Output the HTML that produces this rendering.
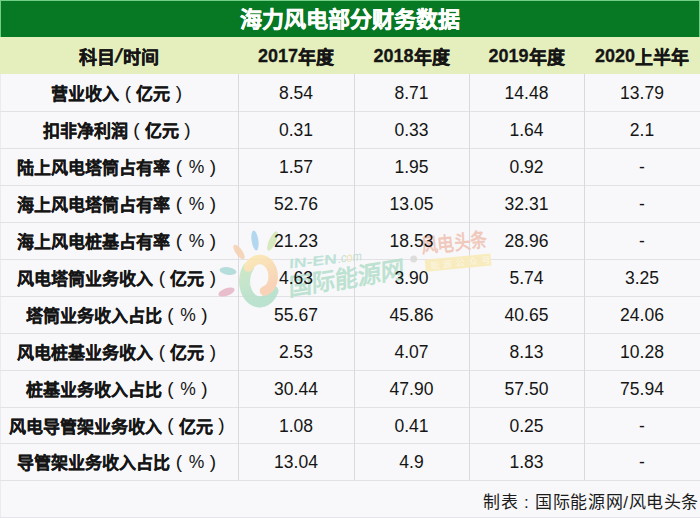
<!DOCTYPE html><html lang="zh-CN"><head><meta charset="utf-8"><style>
*{margin:0;padding:0;box-sizing:border-box}
html,body{width:700px;height:518px;overflow:hidden;background:#f8f8fa}
body{position:relative;font-family:"Liberation Sans",sans-serif;color:#151515}
.a{position:absolute}
.t{position:absolute;display:flex;align-items:center;justify-content:center;white-space:nowrap}
.hl{position:absolute;left:0;width:700px;height:1px;background:#e2e2e6}
.vl{position:absolute;width:1px;background:#dadade}
.c1{font-weight:bold;font-size:17px;-webkit-text-stroke:0.2px #151515}
.n{font-size:17.5px}
.h{font-weight:bold;font-size:18px;-webkit-text-stroke:0.3px #151515}
.p{display:inline-block;width:17px;text-align:center;font-weight:normal;font-size:19px;position:relative;top:0px;-webkit-text-stroke:0}
.n{padding-top:2px}
.d{position:relative;top:1px}
.lp{left:0.5px}
.rp{left:0.5px}
.pc{font-size:17.5px;left:1px;top:0.5px}
</style></head><body>
<div class="a" style="left:0;top:0;width:700px;height:37px;background:#74cf86"></div>
<div class="a" style="left:1px;top:1px;width:698px;height:36px;background:#077823"></div>
<div class="t" style="left:0;top:-1px;width:700px;height:36px;color:#fff;font-weight:bold;font-size:22px;-webkit-text-stroke:0.4px #fff">海力风电部分财务数据</div>
<div class="a" style="left:0;top:37px;width:700px;height:37px;background:#e4efbd"></div>
<div class="t h" style="left:0px;top:37px;width:238px;height:37px">科目<span style="font-size:19px;padding:0 1px;transform:skewX(-16deg)">/</span>时间</div>
<div class="t h" style="left:238px;top:37px;width:116px;height:37px"><span class="d">2017</span>年度</div>
<div class="t h" style="left:354px;top:37px;width:115px;height:37px"><span class="d">2018</span>年度</div>
<div class="t h" style="left:469px;top:37px;width:115px;height:37px"><span class="d">2019</span>年度</div>
<div class="t h" style="left:584px;top:37px;width:116px;height:37px"><span class="d">2020</span>上半年</div>
<div class="vl" style="left:0;top:74px;height:444px;background:#ebebef"></div>
<div class="hl" style="top:111px"></div>
<div class="hl" style="top:148px"></div>
<div class="hl" style="top:185px"></div>
<div class="hl" style="top:222px"></div>
<div class="hl" style="top:259px"></div>
<div class="hl" style="top:296px"></div>
<div class="hl" style="top:333px"></div>
<div class="hl" style="top:370px"></div>
<div class="hl" style="top:407px"></div>
<div class="hl" style="top:443px"></div>
<div class="hl" style="top:480px"></div>
<div class="vl" style="left:238px;top:74px;height:406px"></div>
<div class="vl" style="left:354px;top:74px;height:406px"></div>
<div class="vl" style="left:469px;top:74px;height:406px"></div>
<div class="vl" style="left:584px;top:74px;height:406px"></div>
<div class="hl" style="top:517px;background:#e6e6ea"></div>
<svg class="a" style="left:0;top:0" width="700" height="518">
<g opacity="0.88">
<ellipse cx="255" cy="240.5" rx="3.4" ry="10" transform="rotate(-8 255 240.5)" fill="#aad3ee"/>
<ellipse cx="272.5" cy="241" rx="3.4" ry="10.5" transform="rotate(25 272.5 241)" fill="#d2e7b8"/>
<ellipse cx="239" cy="252" rx="3.4" ry="8.5" transform="rotate(-35 239 252)" fill="#f6d2b2"/>
<ellipse cx="228" cy="271" rx="8.5" ry="3.8" transform="rotate(8 228 271)" fill="#abdad7"/>
<ellipse cx="226.5" cy="292" rx="8.5" ry="3.8" transform="rotate(-20 226.5 292)" fill="#e8b7c6"/>
<defs><linearGradient id="og" x1="0" y1="0" x2="0.4" y2="1"><stop offset="0" stop-color="#fbe6b0"/><stop offset="1" stop-color="#f8cfb0"/></linearGradient><linearGradient id="gg" x1="0" y1="0" x2="0.3" y2="1"><stop offset="0" stop-color="#c8e6c2"/><stop offset="1" stop-color="#b3dfca"/></linearGradient></defs>
<path d="M248.5,267.3 L247.7,268.6 L247.0,270.0 L246.3,271.5 L245.8,273.1 L245.4,274.7 L245.0,276.4 L244.8,278.1 L244.6,279.8 L244.6,281.6 L244.7,283.3 L244.9,285.1 L245.2,286.8 L245.6,288.4 L246.0,290.0 L246.6,291.6 L247.3,293.1 L248.1,294.5 L248.9,295.8 L249.9,297.0 L250.9,298.0 L251.9,299.0 L253.1,299.8 L254.2,300.5 L255.4,301.1 L256.7,301.5 L257.9,301.8 L259.2,301.9 L260.5,301.9 L261.8,301.7 L263.0,301.4 L264.3,300.9 L265.5,300.3 L266.6,299.5 L267.7,298.7 L268.8,297.6 L269.8,296.5 L270.7,295.2 L271.5,293.9 L272.3,292.4 L273.0,290.9" fill="none" stroke="url(#gg)" stroke-width="11" stroke-linecap="round"/>
<path d="M248.5,267.1 L249.5,265.6 L250.6,264.2 L251.7,263.0 L252.9,262.0 L254.2,261.1 L255.5,260.4 L256.9,259.9 L258.2,259.6 L259.6,259.5 L260.9,259.5 L262.3,259.7 L263.6,260.1 L264.8,260.7 L266.0,261.4 L267.1,262.2 L268.2,263.2 L269.2,264.3 L270.0,265.5 L270.8,266.8 L271.5,268.1 L272.0,269.6 L272.5,271.1 L272.8,272.6 L273.0,274.1 L273.1,275.7 L273.1,277.2 L273.0,278.7 L272.8,280.2 L272.5,281.6 L272.1,283.0 L271.6,284.2 L271.0,285.4 L270.4,286.5 L269.6,287.5 L268.9,288.3 L268.0,289.1 L267.2,289.7 L266.3,290.2 L265.4,290.6 L264.5,290.9" fill="none" stroke="url(#og)" stroke-width="9.5" stroke-linecap="round"/>
<g transform="translate(289 268.5) rotate(-6) skewX(-8)">
<text x="0" y="0" font-family="Liberation Sans" font-weight="bold" font-size="13.5" fill="#b6dfd3" textLength="48" lengthAdjust="spacingAndGlyphs">IN-EN</text>
<text x="49" y="-0.5" font-family="Liberation Sans" font-size="13" fill="#b8ddd0" textLength="24" lengthAdjust="spacingAndGlyphs">.c<tspan fill="#eee0a6">o</tspan>m</text>
</g>
<g transform="translate(289 296) rotate(-9) skewX(-8)">
<text x="0" y="0" font-family="Liberation Sans" font-weight="bold" font-size="24" fill="#b5dfcc" textLength="117" lengthAdjust="spacingAndGlyphs">国际能源网</text>
</g>
<circle cx="413.7" cy="259" r="3.4" fill="#dadada"/>
<g transform="rotate(-5.5 423 253)">
<text x="422" y="253" font-family="Liberation Sans" font-weight="bold" font-size="20" fill="#f0c3b4" textLength="66" lengthAdjust="spacingAndGlyphs">风电头条</text>
<rect x="424" y="260" width="66" height="12" fill="#f8ebb8"/>
<text x="429" y="269.5" font-family="Liberation Sans" font-size="9" fill="#fdf6e0" letter-spacing="4">能源公众号</text>
</g>
</g></svg>
<div class="t c1" style="left:0px;top:74px;width:238px;height:37px">营业收入<span class="p lp">(</span>亿元<span class="p rp">)</span></div>
<div class="t n" style="left:238px;top:74px;width:116px;height:37px">8.54</div>
<div class="t n" style="left:354px;top:74px;width:115px;height:37px">8.71</div>
<div class="t n" style="left:469px;top:74px;width:115px;height:37px">14.48</div>
<div class="t n" style="left:584px;top:74px;width:116px;height:37px">13.79</div>
<div class="t c1" style="left:0px;top:111px;width:238px;height:37px">扣非净利润<span class="p lp">(</span>亿元<span class="p rp">)</span></div>
<div class="t n" style="left:238px;top:111px;width:116px;height:37px">0.31</div>
<div class="t n" style="left:354px;top:111px;width:115px;height:37px">0.33</div>
<div class="t n" style="left:469px;top:111px;width:115px;height:37px">1.64</div>
<div class="t n" style="left:584px;top:111px;width:116px;height:37px">2.1</div>
<div class="t c1" style="left:0px;top:148px;width:238px;height:37px">陆上风电塔筒占有率<span class="p lp">(</span><span class="p pc">%</span><span class="p rp">)</span></div>
<div class="t n" style="left:238px;top:148px;width:116px;height:37px">1.57</div>
<div class="t n" style="left:354px;top:148px;width:115px;height:37px">1.95</div>
<div class="t n" style="left:469px;top:148px;width:115px;height:37px">0.92</div>
<div class="t n" style="left:584px;top:148px;width:116px;height:37px">-</div>
<div class="t c1" style="left:0px;top:185px;width:238px;height:37px">海上风电塔筒占有率<span class="p lp">(</span><span class="p pc">%</span><span class="p rp">)</span></div>
<div class="t n" style="left:238px;top:185px;width:116px;height:37px">52.76</div>
<div class="t n" style="left:354px;top:185px;width:115px;height:37px">13.05</div>
<div class="t n" style="left:469px;top:185px;width:115px;height:37px">32.31</div>
<div class="t n" style="left:584px;top:185px;width:116px;height:37px">-</div>
<div class="t c1" style="left:0px;top:222px;width:238px;height:37px">海上风电桩基占有率<span class="p lp">(</span><span class="p pc">%</span><span class="p rp">)</span></div>
<div class="t n" style="left:238px;top:222px;width:116px;height:37px">21.23</div>
<div class="t n" style="left:354px;top:222px;width:115px;height:37px">18.53</div>
<div class="t n" style="left:469px;top:222px;width:115px;height:37px">28.96</div>
<div class="t n" style="left:584px;top:222px;width:116px;height:37px">-</div>
<div class="t c1" style="left:0px;top:259px;width:238px;height:37px">风电塔筒业务收入<span class="p lp">(</span>亿元<span class="p rp">)</span></div>
<div class="t n" style="left:238px;top:259px;width:116px;height:37px">4.63</div>
<div class="t n" style="left:354px;top:259px;width:115px;height:37px">3.90</div>
<div class="t n" style="left:469px;top:259px;width:115px;height:37px">5.74</div>
<div class="t n" style="left:584px;top:259px;width:116px;height:37px">3.25</div>
<div class="t c1" style="left:0px;top:296px;width:238px;height:37px">塔筒业务收入占比<span class="p lp">(</span><span class="p pc">%</span><span class="p rp">)</span></div>
<div class="t n" style="left:238px;top:296px;width:116px;height:37px">55.67</div>
<div class="t n" style="left:354px;top:296px;width:115px;height:37px">45.86</div>
<div class="t n" style="left:469px;top:296px;width:115px;height:37px">40.65</div>
<div class="t n" style="left:584px;top:296px;width:116px;height:37px">24.06</div>
<div class="t c1" style="left:0px;top:333px;width:238px;height:37px">风电桩基业务收入<span class="p lp">(</span>亿元<span class="p rp">)</span></div>
<div class="t n" style="left:238px;top:333px;width:116px;height:37px">2.53</div>
<div class="t n" style="left:354px;top:333px;width:115px;height:37px">4.07</div>
<div class="t n" style="left:469px;top:333px;width:115px;height:37px">8.13</div>
<div class="t n" style="left:584px;top:333px;width:116px;height:37px">10.28</div>
<div class="t c1" style="left:0px;top:370px;width:238px;height:37px">桩基业务收入占比<span class="p lp">(</span><span class="p pc">%</span><span class="p rp">)</span></div>
<div class="t n" style="left:238px;top:370px;width:116px;height:37px">30.44</div>
<div class="t n" style="left:354px;top:370px;width:115px;height:37px">47.90</div>
<div class="t n" style="left:469px;top:370px;width:115px;height:37px">57.50</div>
<div class="t n" style="left:584px;top:370px;width:116px;height:37px">75.94</div>
<div class="t c1" style="left:0px;top:407px;width:238px;height:36px">风电导管架业务收入<span class="p lp">(</span>亿元<span class="p rp">)</span></div>
<div class="t n" style="left:238px;top:407px;width:116px;height:36px">1.08</div>
<div class="t n" style="left:354px;top:407px;width:115px;height:36px">0.41</div>
<div class="t n" style="left:469px;top:407px;width:115px;height:36px">0.25</div>
<div class="t n" style="left:584px;top:407px;width:116px;height:36px">-</div>
<div class="t c1" style="left:0px;top:443px;width:238px;height:37px">导管架业务收入占比<span class="p lp">(</span><span class="p pc">%</span><span class="p rp">)</span></div>
<div class="t n" style="left:238px;top:443px;width:116px;height:37px">13.04</div>
<div class="t n" style="left:354px;top:443px;width:115px;height:37px">4.9</div>
<div class="t n" style="left:469px;top:443px;width:115px;height:37px">1.83</div>
<div class="t n" style="left:584px;top:443px;width:116px;height:37px">-</div>
<div class="a" style="right:1px;top:488px;font-size:17px;letter-spacing:0.6px;white-space:nowrap;color:#1c1c1c">制表<span style="display:inline-block;width:17px;text-align:center">:</span>国际能源网/风电头条</div>
</body></html>
